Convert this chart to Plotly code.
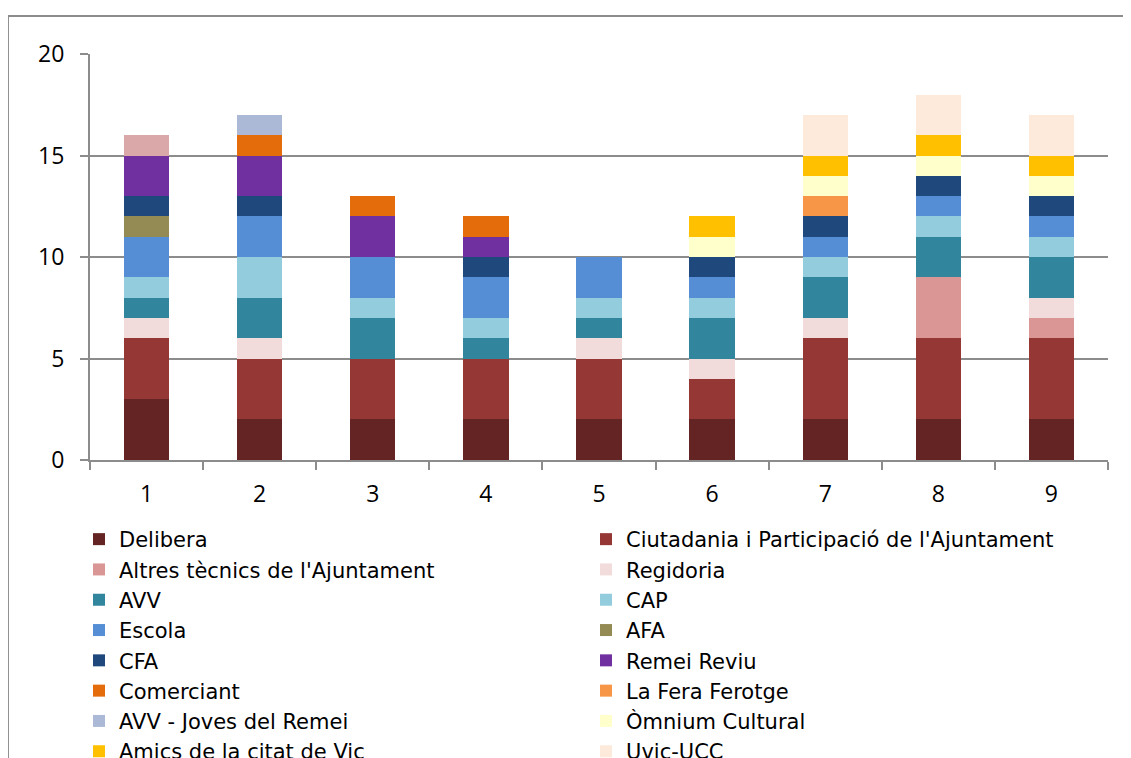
import plotly.graph_objects as go

categories = ["1", "2", "3", "4", "5", "6", "7", "8", "9"]

series_names = [
    "Delibera",
    "Ciutadania i Participació de l'Ajuntament",
    "Altres tècnics de l'Ajuntament",
    "Regidoria",
    "AVV",
    "CAP",
    "Escola",
    "AFA",
    "CFA",
    "Remei Reviu",
    "Comerciant",
    "La Fera Ferotge",
    "AVV - Joves del Remei",
    "Òmnium Cultural",
    "Amics de la citat de Vic",
    "Uvic-UCC",
    "Altres",
]

delibera     = [3, 2, 2, 2, 2, 2, 2, 2, 2]
ciutadania   = [3, 3, 3, 3, 3, 2, 4, 4, 4]
altres_tec   = [0, 0, 0, 0, 0, 0, 0, 3, 1]
regidoria    = [1, 1, 0, 0, 1, 1, 1, 0, 1]
avv          = [1, 2, 2, 1, 1, 2, 2, 2, 2]
cap          = [1, 2, 1, 1, 1, 1, 1, 1, 1]
escola       = [2, 2, 2, 2, 2, 1, 1, 1, 1]
afa          = [1, 0, 0, 0, 0, 0, 0, 0, 0]
cfa          = [1, 1, 0, 1, 0, 1, 1, 1, 1]
remei        = [2, 2, 2, 1, 0, 0, 0, 0, 0]
comerciant   = [0, 1, 1, 1, 0, 0, 0, 0, 0]
fera         = [0, 0, 0, 0, 0, 0, 1, 0, 0]
avv_joves    = [0, 1, 0, 0, 0, 0, 0, 0, 0]
omnium       = [0, 0, 0, 0, 0, 1, 1, 1, 1]
amics        = [0, 0, 0, 0, 0, 1, 1, 1, 1]
uvic         = [0, 0, 0, 0, 0, 0, 2, 2, 2]
altres_extra = [1, 0, 0, 0, 0, 0, 0, 0, 0]

values = [delibera, ciutadania, altres_tec, regidoria, avv, cap, escola, afa,
          cfa, remei, comerciant, fera, avv_joves, omnium, amics, uvic, altres_extra]

colors = ["#632423", "#953735", "#D99694", "#F2DCDB", "#31859C", "#93CDDD",
          "#558ED5", "#948A54", "#1F497D", "#7030A0", "#E46C0A", "#F79646",
          "#ABB9D7", "#FFFFCC", "#FFC000", "#FDEADA", "#DAA8A8"]

y_ticks = [0, 5, 10, 15, 20]

TICK_FONT = "Open Sans"
LEGEND_FONT = "DejaVu Sans"

fig = go.Figure()
for i, (name, vals, col) in enumerate(zip(series_names, values, colors)):
    fig.add_trace(go.Bar(
        x=categories, y=vals, name=name,
        marker=dict(color=col, line=dict(width=0)),
        showlegend=(i < 16),
    ))

fig.update_layout(
    width=1131, height=758,
    barmode="stack", bargap=0.6,
    plot_bgcolor="white", paper_bgcolor="white",
    margin=dict(l=82, r=31, t=46, b=306, autoexpand=False),
    font=dict(family=TICK_FONT, size=21, color="black"),
    xaxis=dict(
        showline=True, linecolor="#8C8C8C", linewidth=2,
        ticks="outside", ticklen=8, tickcolor="#8C8C8C", tickwidth=2,
        tickson="boundaries", showgrid=False,
        tickfont=dict(size=23), ticklabelstandoff=12, fixedrange=True,
    ),
    yaxis=dict(
        range=[0, 20], tickvals=y_ticks,
        showline=True, linecolor="#8C8C8C", linewidth=2,
        ticks="outside", ticklen=8, tickcolor="#8C8C8C", tickwidth=2,
        showgrid=True, gridcolor="#8C8C8C", gridwidth=2,
        zeroline=False, tickfont=dict(size=23), ticklabelstandoff=11,
    ),
    legend=dict(
        orientation="h", traceorder="normal",
        x=-0.0108, xanchor="left", y=-0.1453, yanchor="top",
        entrywidth=462, entrywidthmode="pixels",
        font=dict(family=LEGEND_FONT, size=21), itemwidth=30,
        tracegroupgap=0, bgcolor="rgba(0,0,0,0)",
    ),
    shapes=[dict(
        type="rect", xref="paper", yref="paper",
        x0=-0.0806, x1=1.2, y0=-1.5, y1=1.0936,
        line=dict(color="#8C8C8C", width=2), fillcolor="rgba(0,0,0,0)",
        layer="below",
    )],
)

fig.write_html("out.html")
